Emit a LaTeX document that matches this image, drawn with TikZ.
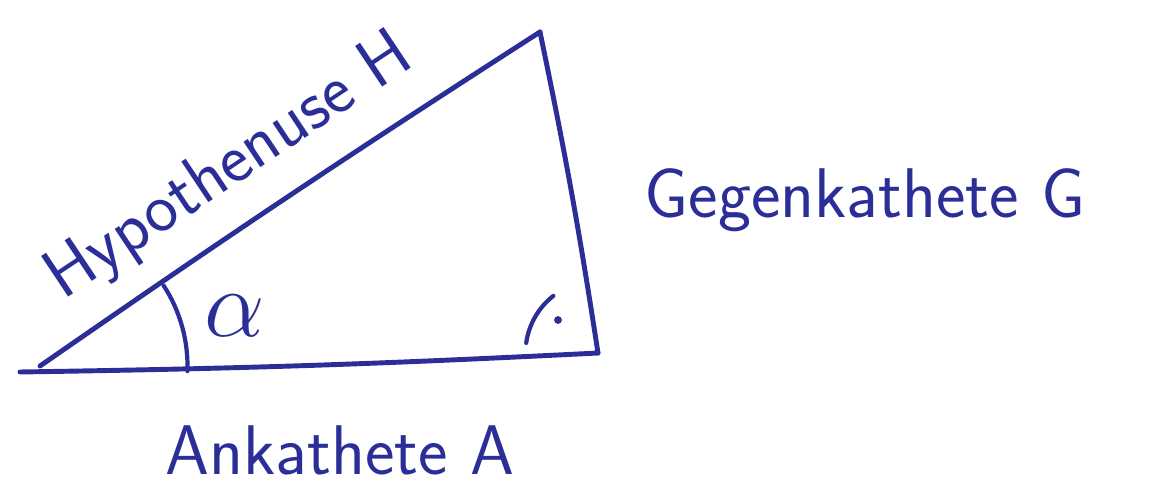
\documentclass[tikz,border=0pt]{standalone}
\usepackage{amsmath}
\usepackage{graphicx}
\usepackage{fontspec}
\usepackage{tikz}
\usetikzlibrary{positioning, calc}
\definecolor{penblue}{RGB}{44,46,152}
\tikzset{
	pen/.style={penblue, line width=2.8pt, line cap=round, line join=round},
	penthin/.style={penblue, line width=2.4pt, line cap=round},
	hand/.style={text=penblue, inner sep=0pt, font=\sffamily\fontsize{40}{40}\selectfont}
}

\begin{document}
\begin{tikzpicture}
\useasboundingbox [fill=white] (0,0) rectangle (23.04,9.96);
\coordinate (tail) at (0.4,2.52);
\coordinate (a) at (0.8,2.64);
\coordinate (b) at (11.96,2.9);
\coordinate (c) at (10.8,9.32);
% triangle
\draw [pen] (tail) to[bend right=1] (b);
\draw [pen] (a) to[bend left=1] (c);
\draw [pen] (c) to[bend left=1.5] (b);
% angle alpha and right angle
\draw [penthin] ($(a)+(33:2.95)$) arc (33:-2:2.95);
\node [hand] (alpha) at (4.7,3.65) {\scalebox{2.2}{$\alpha$}};
\draw [penthin] ($(b)+(128:1.45)$) arc (128:172:1.45);
\draw [fill, penblue] (11.16,3.56) circle (.07);
% labels
\node [hand, rotate=33.7] (hyp) at (4.6,6.6) {Hypothenuse H};
\node [hand] (gk) at (17.3,5.96) {Gegenkathete G};
\node [hand] (ak) at (6.8,0.96) {Ankathete A};
\end{tikzpicture}
\end{document}
